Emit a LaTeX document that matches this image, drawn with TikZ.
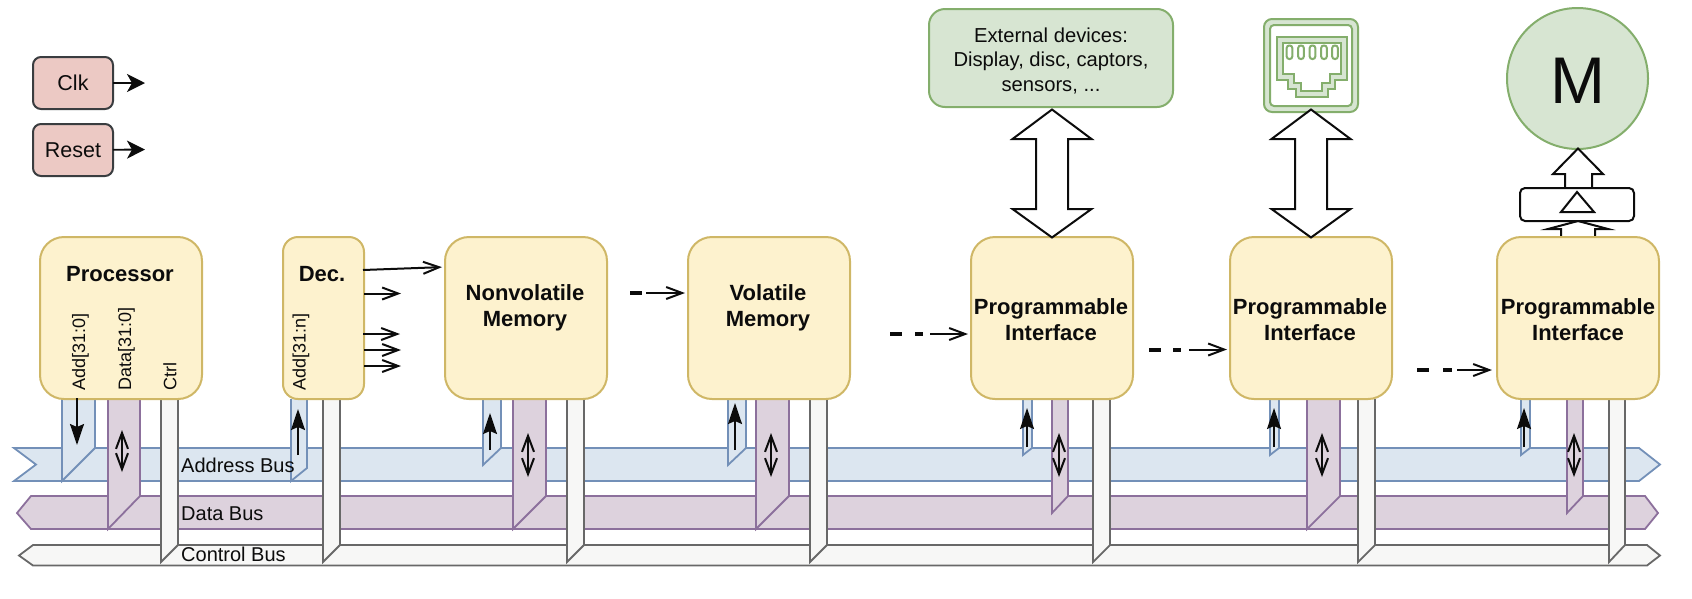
\documentclass[tikz,border=0pt]{standalone}
\usepackage{fontspec}
\setmainfont{Liberation Sans}
\usetikzlibrary{arrows.meta}
\definecolor{yelF}{HTML}{FDF2CE}\definecolor{yelS}{HTML}{CFB766}
\definecolor{bluF}{HTML}{DCE6F0}\definecolor{bluS}{HTML}{7390B8}
\definecolor{purF}{HTML}{DDD2DD}\definecolor{purS}{HTML}{8C709C}
\definecolor{gryF}{HTML}{F7F7F6}\definecolor{gryS}{HTML}{686868}
\definecolor{grnF}{HTML}{D7E5D2}\definecolor{grnS}{HTML}{84AE6C}
\definecolor{redF}{HTML}{ECC9C4}\definecolor{redS}{HTML}{3A3D40}
\definecolor{ink}{HTML}{0C0C0C}
\newcommand{\fs}[2]{\fontsize{#1}{#2}\selectfont}
\tikzset{
 x=1pt,y=-1pt,
 block/.style={draw=yelS,fill=yelF,line width=2pt,rounded corners=24pt,minimum width=162pt,minimum height=162pt,inner sep=0pt,outer sep=0pt},
 decblock/.style={block,rounded corners=15pt,minimum width=81pt},
 ctrlblock/.style={draw=redS,fill=redF,line width=2pt,rounded corners=8pt,minimum width=80pt,minimum height=52pt,inner sep=0pt,outer sep=0pt,text=ink,font=\fs{21.5}{25}},
 title/.style={font=\bfseries\fs{22}{26},align=center,text=ink,inner sep=0pt},
 sig/.style={font=\fs{18}{20},rotate=90,anchor=west,text=ink,inner sep=0pt},
 buslabel/.style={font=\fs{20}{24},anchor=west,text=ink,inner sep=0pt},
 addr/.style={draw=bluS,fill=bluF,line width=1.8pt},
 data/.style={draw=purS,fill=purF,line width=1.8pt},
 ctrl/.style={draw=gryS,fill=gryF,line width=1.8pt},
 solidarr/.style={draw=ink,line width=1.8pt,-{Stealth[length=21pt,width=14pt,inset=3pt]}},
 clkarr/.style={draw=ink,line width=1.8pt,-{Stealth[length=18pt,width=18pt,inset=5pt]}},
 barbarr/.style={draw=ink,line width=2pt,-{Straight Barb[length=16pt,width=12pt,line width=2pt]}},
 bothbarb/.style={draw=ink,line width=1.8pt,{Straight Barb[length=16pt,width=12pt,line width=2pt]}-{Straight Barb[length=16pt,width=12pt,line width=2pt]}},
 fatdash/.style={draw=ink,line width=4pt},
 outl/.style={draw=ink,fill=white,line width=2pt,line join=miter},
 rj/.style={draw=grnS,line width=2pt},
}
% l r cornerY tipY style
\newcommand{\stub}[5]{\path[#5] (#1,399) -- (#1,#4) -- (#2,#3) -- (#2,399);}
\newcommand{\bigdouble}[1]{\path[outl] (#1,109.5) -- (#1+39.5,139) -- (#1+16,139) -- (#1+16,209) -- (#1+39.5,209) -- (#1,237.5) -- (#1-39.5,209) -- (#1-16,209) -- (#1-16,139) -- (#1-39.5,139) -- cycle;}
\begin{document}
\begin{tikzpicture}
\useasboundingbox (0,0) rectangle (1692,598);
% buses
\path[addr] (14,448) -- (1639,448) -- (1660,464.5) -- (1639,481) -- (14,481) -- (36,464.5) -- cycle;
\path[data] (31,496) -- (1645,496) -- (1658,513) -- (1645,529) -- (31,529) -- (17,513) -- cycle;
\path[ctrl] (33,545) -- (1647,545) -- (1660,555.5) -- (1647,565.5) -- (33,565.5) -- (19,555.5) -- cycle;
% address stubs
\stub{62}{95}{448}{481}{addr}
\stub{291}{307}{468}{481}{addr}
\stub{483}{501}{448}{465}{addr}
\stub{728}{746}{448}{465}{addr}
\stub{1023}{1032}{448}{455}{addr}
\stub{1270}{1279}{448}{455}{addr}
\stub{1521}{1530}{448}{455}{addr}
% data stubs
\stub{108}{140}{496}{529}{data}
\stub{513}{546}{496}{529}{data}
\stub{756}{789}{496}{529}{data}
\stub{1052}{1068}{496}{513}{data}
\stub{1307}{1340}{496}{529}{data}
\stub{1567}{1583}{496}{513}{data}
% control stubs
\stub{161}{178}{545}{562}{ctrl}
\stub{323}{340}{545}{562}{ctrl}
\stub{567}{584}{545}{562}{ctrl}
\stub{810}{827}{545}{562}{ctrl}
\stub{1093}{1110}{545}{562}{ctrl}
\stub{1358}{1375}{545}{562}{ctrl}
\stub{1609}{1625}{545}{562}{ctrl}
% motor driver arrows (behind boxes)
\path[outl] (1578,221) -- (1608,229) -- (1595,229) -- (1595,238) -- (1561,238) -- (1561,229) -- (1548,229) -- cycle;
% blocks
\node[block] (proc) at (121,318) {};
\node[decblock] (dec) at (323.5,318) {};
\node[block] (nvm) at (526,318) {};
\node[block] (vm) at (769,318) {};
\node[block] (pi1) at (1052,318) {};
\node[block] (pi2) at (1311,318) {};
\node[block] (pi3) at (1578,318) {};
\node[title] (tproc) at (120,274) {Processor};
\node[title] (tdec) at (322,274) {Dec.};
\node[title] (tnvm) at (525,308) {Nonvolatile\\Memory};
\node[title] (tvm) at (768,308) {Volatile\\Memory};
\node[title] (tpi1) at (1051,320) {Programmable\\Interface};
\node[title] (tpi2) at (1310,320) {Programmable\\Interface};
\node[title] (tpi3) at (1578,320) {Programmable\\Interface};
\node[sig] (s1) at (80.5,391) {Add[31:0]};
\node[sig] (s2) at (126.5,391) {Data[31:0]};
\node[sig] (s3) at (170,391) {Ctrl};
\node[sig] (s4) at (301,391) {Add[31:n]};
% clock and reset
\node[ctrlblock] (clk) at (73,83) {Clk};
\node[ctrlblock] (rst) at (73,150) {Reset};
\coordinate (clkend) at (145,83);
\coordinate (rstend) at (145,149.5);
\draw[clkarr] (clk) -- (clkend);
\draw[clkarr] (rst) -- (rstend);
% decoder outputs
\coordinate (d0) at (363,270); \coordinate (d1) at (364,293.5); \coordinate (d2) at (363,334);
\coordinate (d3) at (364,350); \coordinate (d4) at (364,366);
\coordinate (e1) at (401,293.5); \coordinate (e2) at (400,334); \coordinate (e3) at (401,350); \coordinate (e4) at (401,366);
\draw[barbarr,shorten >=3pt] (d0) -- (nvm.west |- 0,267);
\draw[barbarr] (d1) -- (e1);
\draw[barbarr] (d2) -- (e2);
\draw[barbarr] (d3) -- (e3);
\draw[barbarr] (d4) -- (e4);
% dashed chain
\coordinate (da) at (630,293);
\coordinate (db) at (890,334);
\coordinate (dc) at (1149,349.5);
\coordinate (dd) at (1417,370);
\draw[fatdash] (da) -- ++(12,0);
\draw[barbarr,shorten >=3pt] ([xshift=16pt]da) -- (da -| vm.west);
\draw[fatdash] (db) -- ++(12,0);
\draw[fatdash] ([xshift=25pt]db) -- ++(8,0);
\draw[barbarr,shorten >=3pt] ([xshift=40pt]db) -- (db -| pi1.west);
\draw[fatdash] (dc) -- ++(12,0);
\draw[fatdash] ([xshift=24pt]dc) -- ++(8,0);
\draw[barbarr,shorten >=3pt] ([xshift=40pt]dc) -- (dc -| pi2.west);
\draw[fatdash] (dd) -- ++(12,0);
\draw[fatdash] ([xshift=26pt]dd) -- ++(9,0);
\draw[barbarr,shorten >=5pt] ([xshift=40pt]dd) -- (dd -| pi3.west);
% bus direction arrows
\coordinate (a1s) at (77,398); \coordinate (a1e) at (77,445);
\coordinate (a2s) at (298,455); \coordinate (a2e) at (298,409);
\coordinate (a3s) at (490,450); \coordinate (a3e) at (490,413);
\coordinate (a4s) at (735,450); \coordinate (a4e) at (735,403);
\coordinate (a5s) at (1027,447); \coordinate (a5e) at (1027,408);
\coordinate (a6s) at (1274,447); \coordinate (a6e) at (1274,408);
\coordinate (a7s) at (1524,447); \coordinate (a7e) at (1524,408);
\foreach \n in {1,...,7} {\draw[solidarr] (a\n s) -- (a\n e);}
\coordinate (b1s) at (122,430); \coordinate (b1e) at (122,472);
\coordinate (b2s) at (528,433); \coordinate (b2e) at (528,477);
\coordinate (b3s) at (771,433); \coordinate (b3e) at (771,477);
\coordinate (b4s) at (1059,433); \coordinate (b4e) at (1059,477);
\coordinate (b5s) at (1322,433); \coordinate (b5e) at (1322,477);
\coordinate (b6s) at (1574,433); \coordinate (b6e) at (1574,477);
\foreach \n in {1,...,6} {\draw[bothbarb] (b\n s) -- (b\n e);}
% bus labels
\node[buslabel] (lab1) at (181,465) {Address Bus};
\node[buslabel] (lab2) at (181,514) {Data Bus};
\node[buslabel] (lab3) at (181,554) {Control Bus};
% external devices
\node[draw=grnS,fill=grnF,line width=2pt,rounded corners=16pt,minimum width=244pt,minimum height=98pt,inner sep=0pt] (ext) at (1051,58) {};
\node[inner sep=0pt,align=center,text=ink,font=\fs{20.2}{24.5}] (exttext) at (1051,60.5) {External devices:\\Display, disc, captors,\\sensors, ...};
\bigdouble{1052}
% RJ45
\path[draw=grnS,fill=grnF,line width=2pt,rounded corners=8pt] (1264,19) rectangle (1358,112);
\path[draw=grnS,fill=white,line width=2pt,rounded corners=4pt] (1270,25) rectangle (1352,106);
\path[rj,fill=grnF] (1276.5,37) -- (1346.5,37) -- (1346.5,80) -- (1335,80) -- (1335,88.5) -- (1327.5,88.5) -- (1327.5,97) -- (1295.5,97) -- (1295.5,88.5) -- (1288,88.5) -- (1288,80) -- (1276.5,80) -- cycle;
\path[rj,fill=white] (1283,43) -- (1341,43) -- (1341,74) -- (1329.5,74) -- (1329.5,83) -- (1322,83) -- (1322,91) -- (1301,91) -- (1301,83) -- (1293.5,83) -- (1293.5,74) -- (1283,74) -- cycle;
\foreach \px in {1289.5,1301,1312.5,1324,1335} {\path[rj,fill=white,rounded corners=2.5pt] (\px-2.8,45.5) rectangle (\px+2.8,59);}
\bigdouble{1311}
% motor
\node[draw=grnS,fill=grnF,line width=2pt,circle,minimum size=141pt,inner sep=0pt] (motor) at (1577.5,78.5) {};
\node[inner sep=0pt,text=ink,font=\fs{66}{70}] (motortext) at (1578,80.5) {M};
\path[outl] (1578,148.5) -- (1603,174) -- (1592,174) -- (1592,188) -- (1565,188) -- (1565,174) -- (1553,174) -- cycle;
\node[draw=ink,fill=white,line width=2pt,rounded corners=5pt,minimum width=114pt,minimum height=33pt,inner sep=0pt] (drv) at (1577,204.5) {};
\path[draw=ink,line width=2pt] (1577,192) -- (1594,212) -- (1561,212) -- cycle;
\end{tikzpicture}
\end{document}
